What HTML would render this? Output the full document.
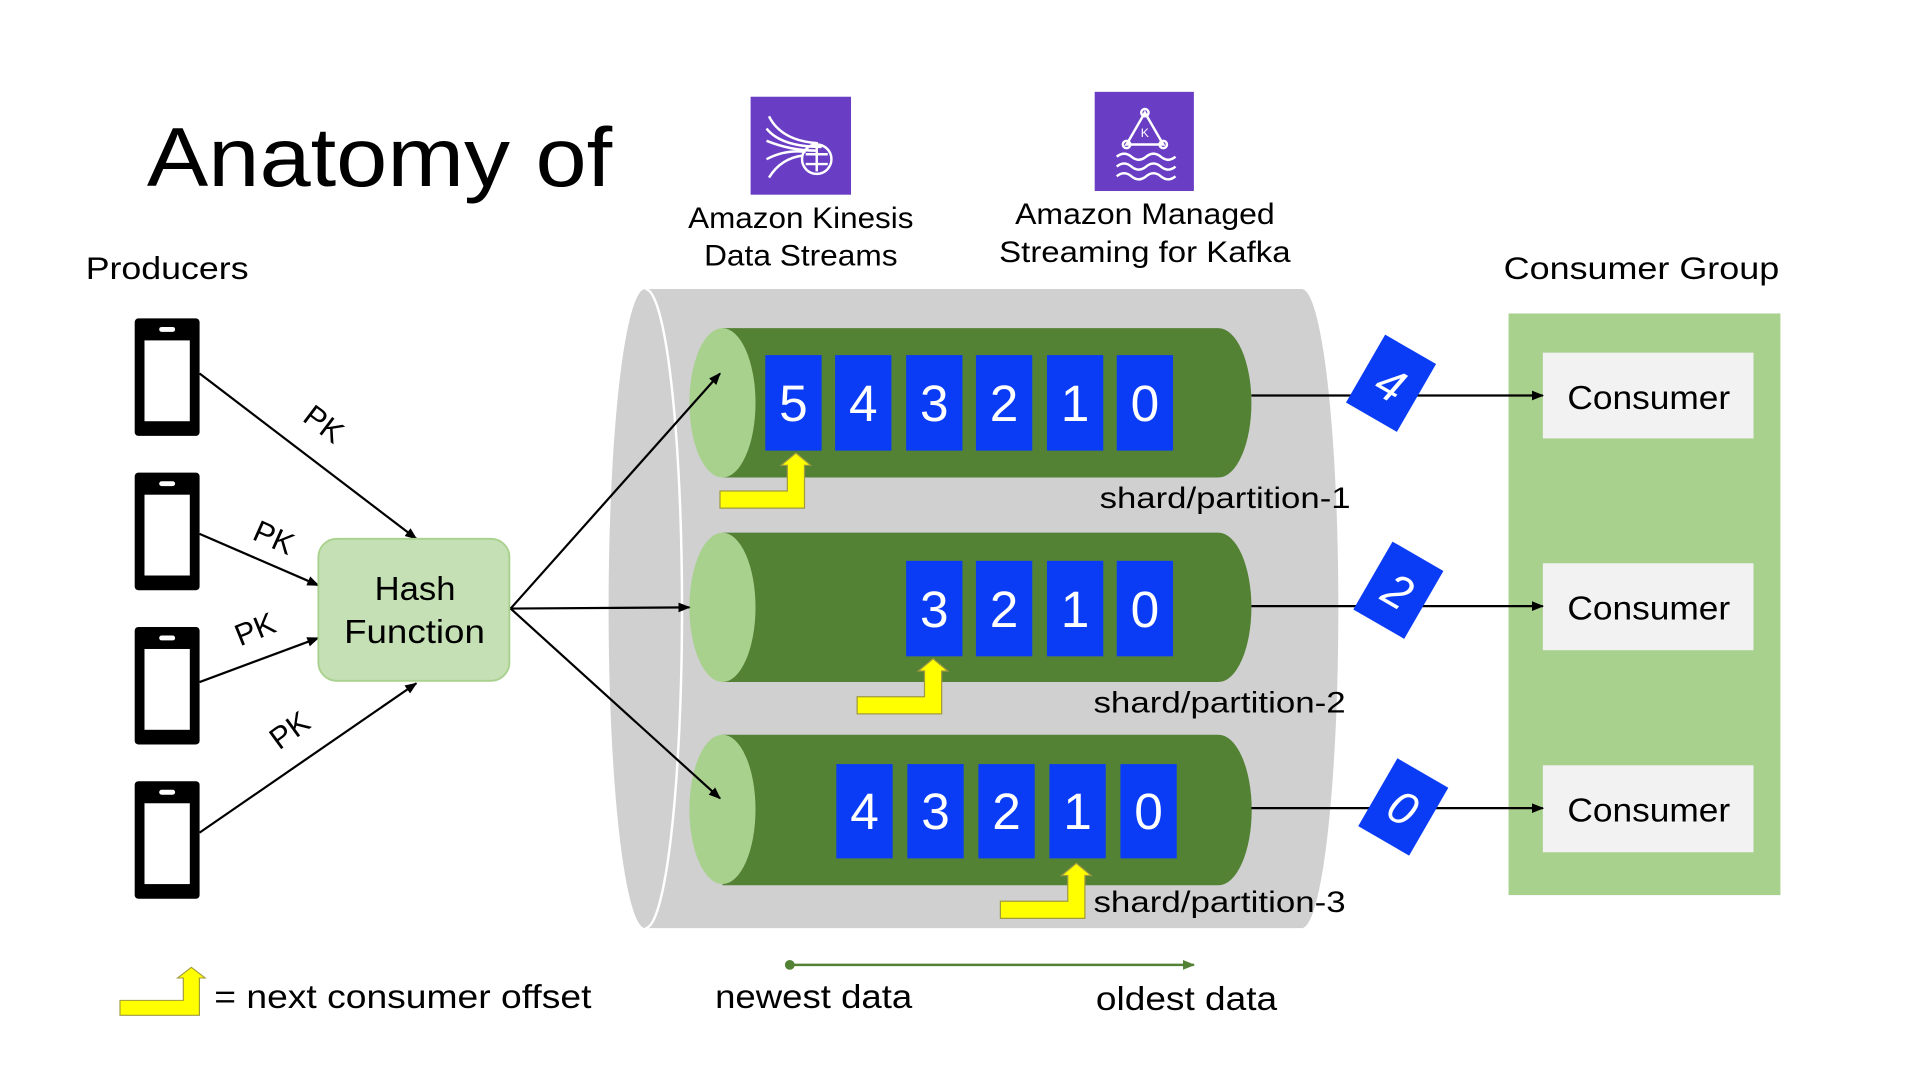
<!DOCTYPE html>
<html><head><meta charset="utf-8"><style>
html,body{margin:0;padding:0;background:#fff;}
svg{display:block;}
text{font-family:"Liberation Sans",sans-serif;}
</style></head><body>
<svg width="1920" height="1080" viewBox="0 0 1568 882" preserveAspectRatio="none" xmlns="http://www.w3.org/2000/svg">
<defs>
<marker id="ah" markerWidth="10" markerHeight="10" refX="9" refY="5" orient="auto" markerUnits="userSpaceOnUse"><path d="M0,1 L10,5 L0,9 Z" fill="#000"/></marker>
<marker id="ahg" markerWidth="10" markerHeight="10" refX="9" refY="5" orient="auto" markerUnits="userSpaceOnUse"><path d="M0,1 L10,5 L0,9 Z" fill="#548235"/></marker>
<g id="phone"><rect x="0" y="0" width="53" height="96" rx="3" fill="#000"/><rect x="8" y="18" width="37" height="66" fill="#fff"/><rect x="20" y="7" width="13" height="4" rx="2" fill="#fff"/></g>
<path id="yarr" d="M0,31 L55,31 L55,10 L50,10 L62,0 L74,10 L69,10 L69,45 L0,45 Z" fill="#ffff00" stroke="#a09a40" stroke-width="1"/>
</defs>

<text x="120" y="152" font-size="68" textLength="380" lengthAdjust="spacingAndGlyphs">Anatomy of</text>

<!-- icons -->
<rect x="613" y="79" width="82" height="80" fill="#6a3ec4"/>
<g stroke="#fff" stroke-width="2" fill="none">
<path d="M628,95 q10,20 40,22"/><path d="M626,105 q12,15 45,15"/><path d="M626,115 q20,8 40,8"/><path d="M626,130 q15,-8 32,-6"/><path d="M628,145 q10,-16 28,-18"/>
<circle cx="667" cy="130" r="12"/><path d="M658,126 h18 M658,134 h18 M667,120 v20"/>
</g>
<rect x="894" y="75" width="81" height="81" fill="#6a3ec4"/>
<g stroke="#fff" stroke-width="2" fill="none">
<path d="M935,92 L920,118 L950,118 Z"/><circle cx="935" cy="92" r="3"/><circle cx="920" cy="118" r="3"/><circle cx="950" cy="118" r="3"/>
<path d="M912,128 q6,-5 12,0 t12,0 t12,0 t12,0"/><path d="M912,136 q6,-5 12,0 t12,0 t12,0 t12,0"/><path d="M912,144 q6,-5 12,0 t12,0 t12,0 t12,0"/>
</g>
<text x="935" y="112" font-size="10" fill="#fff" text-anchor="middle">K</text>

<text x="562" y="186" font-size="24" textLength="184" lengthAdjust="spacingAndGlyphs">Amazon Kinesis</text>
<text x="575" y="217" font-size="24" textLength="158" lengthAdjust="spacingAndGlyphs">Data Streams</text>
<text x="829" y="183" font-size="24" textLength="212" lengthAdjust="spacingAndGlyphs">Amazon Managed</text>
<text x="816" y="214" font-size="24" textLength="238" lengthAdjust="spacingAndGlyphs">Streaming for Kafka</text>

<text x="70" y="228" font-size="26" textLength="133" lengthAdjust="spacingAndGlyphs">Producers</text>
<text x="1228" y="228" font-size="26" textLength="225" lengthAdjust="spacingAndGlyphs">Consumer Group</text>

<use href="#phone" x="110" y="260"/>
<use href="#phone" x="110" y="386"/>
<use href="#phone" x="110" y="512"/>
<use href="#phone" x="110" y="638"/>

<g stroke="#000" stroke-width="1.8" fill="none" marker-end="url(#ah)">
<line x1="163" y1="305" x2="340" y2="440"/>
<line x1="163" y1="436" x2="260" y2="478"/>
<line x1="163" y1="557" x2="260" y2="521"/>
<line x1="163" y1="680" x2="340" y2="558"/>
</g>
<text font-size="25" transform="translate(246,343) rotate(37)">PK</text>
<text font-size="25" transform="translate(205,440) rotate(24)">PK</text>
<text font-size="25" transform="translate(196,528) rotate(-22)">PK</text>
<text font-size="25" transform="translate(228,613) rotate(-36)">PK</text>

<rect x="260" y="440" width="156" height="116" rx="15" fill="#c5e0b4" stroke="#a9d18e" stroke-width="1.5"/>
<text x="306" y="490" font-size="27" textLength="66" lengthAdjust="spacingAndGlyphs">Hash</text>
<text x="281" y="525" font-size="27" textLength="115" lengthAdjust="spacingAndGlyphs">Function</text>

<!-- gray cylinder -->
<path d="M527,236 L1063,236 A30,261 0 0 1 1063,758 L527,758 A30,261 0 0 1 527,236 Z" fill="#d0d0d0"/>
<path d="M527,236 A30,261 0 0 1 527,758" stroke="#fff" stroke-width="2" fill="none"/>

<!-- shards -->
<g>
<path d="M590,268 L995,268 A27,61 0 0 1 995,390 L590,390 Z" fill="#548235"/>
<ellipse cx="590" cy="329" rx="27" ry="61" fill="#a9d18e"/>
<path d="M590,435 L995,435 A27,61 0 0 1 995,557 L590,557 Z" fill="#548235"/>
<ellipse cx="590" cy="496" rx="27" ry="61" fill="#a9d18e"/>
<path d="M590,600 L995,600 A27,61 0 0 1 995,723 L590,723 Z" fill="#548235"/>
<ellipse cx="590" cy="661" rx="27" ry="61" fill="#a9d18e"/>
</g>

<g stroke="#000" stroke-width="1.8" fill="none" marker-end="url(#ah)">
<line x1="417" y1="497" x2="588" y2="305"/>
<line x1="417" y1="497" x2="563" y2="496"/>
<line x1="417" y1="497" x2="588" y2="652"/>
</g>

<g fill="#0a3cf5">
<rect x="625" y="290" width="46" height="78"/><rect x="682" y="290" width="46" height="78"/><rect x="740" y="290" width="46" height="78"/><rect x="797" y="290" width="46" height="78"/><rect x="855" y="290" width="46" height="78"/><rect x="912" y="290" width="46" height="78"/>
<rect x="740" y="458" width="46" height="78"/><rect x="797" y="458" width="46" height="78"/><rect x="855" y="458" width="46" height="78"/><rect x="912" y="458" width="46" height="78"/>
<rect x="683" y="624" width="46" height="77"/><rect x="741" y="624" width="46" height="77"/><rect x="799" y="624" width="46" height="77"/><rect x="857" y="624" width="46" height="77"/><rect x="915" y="624" width="46" height="77"/>
</g>
<g fill="#fff" font-size="42" text-anchor="middle">
<text x="648" y="344">5</text><text x="705" y="344">4</text><text x="763" y="344">3</text><text x="820" y="344">2</text><text x="878" y="344">1</text><text x="935" y="344">0</text>
<text x="763" y="512">3</text><text x="820" y="512">2</text><text x="878" y="512">1</text><text x="935" y="512">0</text>
<text x="706" y="677">4</text><text x="764" y="677">3</text><text x="822" y="677">2</text><text x="880" y="677">1</text><text x="938" y="677">0</text>
</g>

<use href="#yarr" x="588" y="370"/>
<use href="#yarr" x="700" y="538"/>
<use href="#yarr" x="817" y="705"/>

<text x="898" y="415" font-size="24" textLength="205" lengthAdjust="spacingAndGlyphs">shard/partition-1</text>
<text x="893" y="582" font-size="24" textLength="206" lengthAdjust="spacingAndGlyphs">shard/partition-2</text>
<text x="893" y="745" font-size="24" textLength="206" lengthAdjust="spacingAndGlyphs">shard/partition-3</text>

<!-- consumer group -->
<rect x="1232" y="256" width="222" height="475" fill="#a9d18e"/>
<rect x="1260" y="288" width="172" height="70" fill="#f2f2f2"/>
<rect x="1260" y="460" width="172" height="71" fill="#f2f2f2"/>
<rect x="1260" y="625" width="172" height="71" fill="#f2f2f2"/>
<text x="1280" y="334" font-size="27" textLength="133" lengthAdjust="spacingAndGlyphs">Consumer</text>
<text x="1280" y="506" font-size="27" textLength="133" lengthAdjust="spacingAndGlyphs">Consumer</text>
<text x="1280" y="671" font-size="27" textLength="133" lengthAdjust="spacingAndGlyphs">Consumer</text>

<g stroke="#000" stroke-width="1.8" fill="none" marker-end="url(#ah)">
<line x1="1022" y1="323" x2="1260" y2="323"/>
<line x1="1022" y1="495" x2="1260" y2="495"/>
<line x1="1022" y1="660" x2="1260" y2="660"/>
</g>
<g transform="translate(1136,313) rotate(30)"><rect x="-24" y="-32" width="48" height="64" fill="#0a3cf5"/><text x="0" y="14" font-size="38" fill="#fff" text-anchor="middle" font-style="italic">4</text></g>
<g transform="translate(1142,482) rotate(30)"><rect x="-24" y="-32" width="48" height="64" fill="#0a3cf5"/><text x="0" y="14" font-size="38" fill="#fff" text-anchor="middle" font-style="italic">2</text></g>
<g transform="translate(1146,659) rotate(30)"><rect x="-24" y="-32" width="48" height="64" fill="#0a3cf5"/><text x="0" y="14" font-size="38" fill="#fff" text-anchor="middle" font-style="italic">0</text></g>

<!-- legend -->
<use href="#yarr" x="0" y="0" transform="translate(98,790) scale(0.94,0.87)"/>
<text x="175" y="823" font-size="27" textLength="308" lengthAdjust="spacingAndGlyphs">= next consumer offset</text>
<circle cx="645" cy="788" r="4" fill="#548235"/>
<line x1="645" y1="788" x2="975" y2="788" stroke="#548235" stroke-width="2" marker-end="url(#ahg)"/>
<text x="584" y="823" font-size="27" textLength="161" lengthAdjust="spacingAndGlyphs">newest data</text>
<text x="895" y="825" font-size="27" textLength="148" lengthAdjust="spacingAndGlyphs">oldest data</text>
</svg>
</body></html>
